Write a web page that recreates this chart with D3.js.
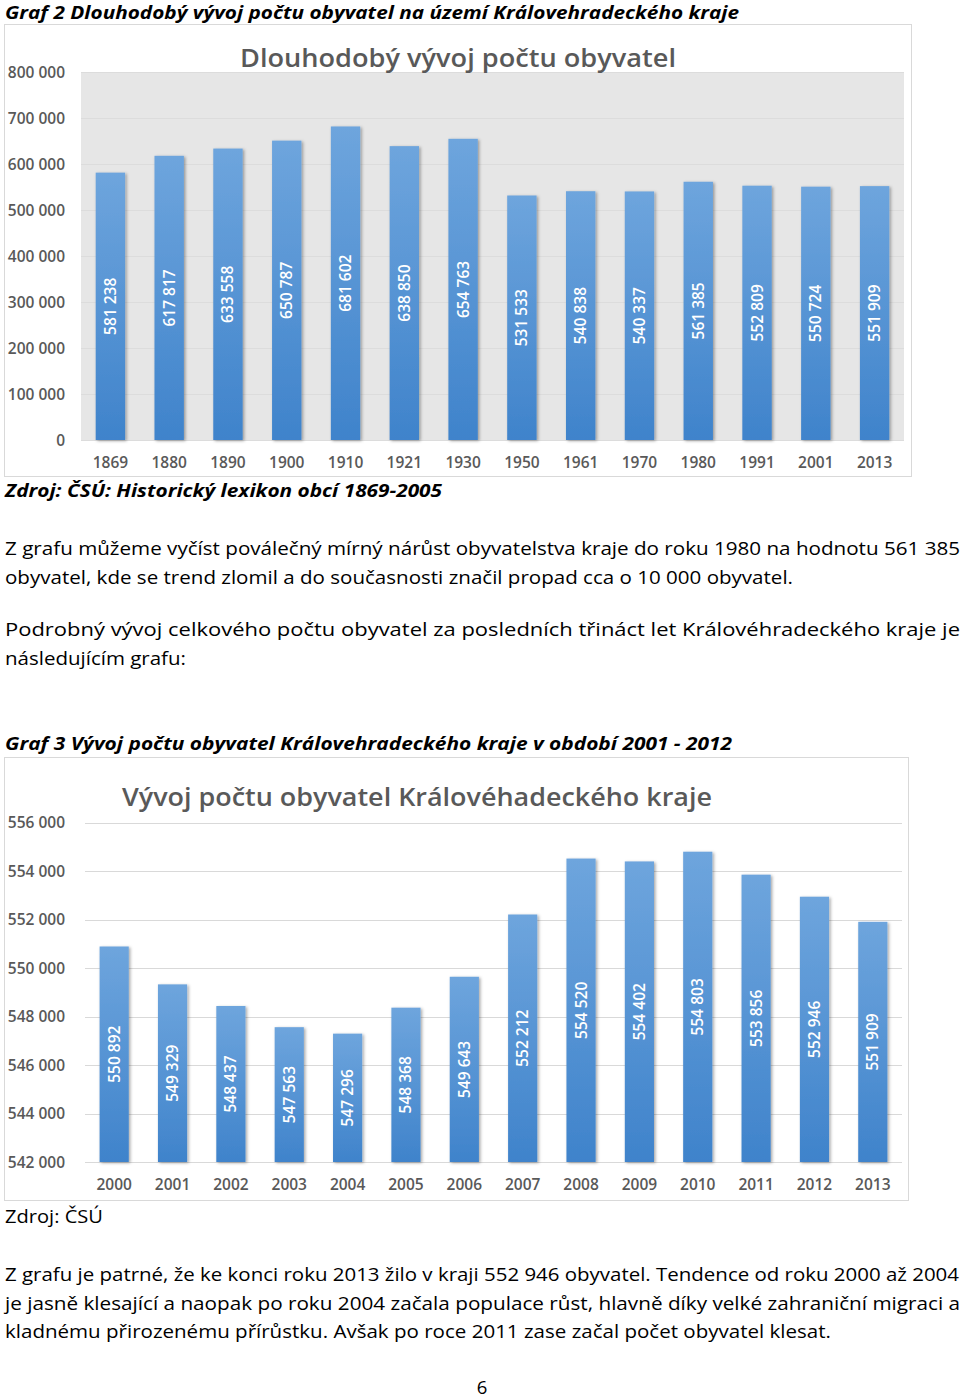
<!DOCTYPE html>
<html>
<head>
<meta charset="utf-8">
<script src="https://cdn.jsdelivr.net/npm/d3@7"></script>
<style>
  body { margin: 0; background: #fff; }
  svg { display: block; }
</style>
</head>
<body>
<svg id="page" width="960" height="1400"></svg>
<script>
const years1 = ["1869", "1880", "1890", "1900", "1910", "1921", "1930", "1950", "1961", "1970", "1980", "1991", "2001", "2013"],
  pop1 = [581238, 617817, 633558, 650787, 681602, 638850, 654763, 531533, 540838, 540337, 561385, 552809, 550724, 551909],
  ticks1 = [0, 100000, 200000, 300000, 400000, 500000, 600000, 700000, 800000];

const years2 = ["2000", "2001", "2002", "2003", "2004", "2005", "2006", "2007", "2008", "2009", "2010", "2011", "2012", "2013"],
  pop2 = [550892, 549329, 548437, 547563, 547296, 548368, 549643, 552212, 554520, 554402, 554803, 553856, 552946, 551909],
  ticks2 = [542000, 544000, 546000, 548000, 550000, 552000, 554000, 556000];

const title1 = "Dlouhodobý vývoj počtu obyvatel",
  title2 = "Vývoj počtu obyvatel Královéhadeckého kraje";

// page text: [text, y baseline, width, style]
const pageLines = [
  ["Graf 2 Dlouhodobý vývoj počtu obyvatel na území Královehradeckého kraje", 18.5, 734, "bi"],
  ["Zdroj: ČSÚ: Historický lexikon obcí 1869-2005", 497, 437, "bi"],
  ["Z grafu můžeme vyčíst poválečný mírný nárůst obyvatelstva kraje do roku 1980 na hodnotu 561 385", 555, 955, "n"],
  ["obyvatel, kde se trend zlomil a do současnosti značil propad cca o 10 000 obyvatel.", 584, 788, "n"],
  ["Podrobný vývoj celkového počtu obyvatel za posledních třináct let Královéhradeckého kraje je", 636, 955, "n"],
  ["následujícím grafu:", 665, 181, "n"],
  ["Graf 3 Vývoj počtu obyvatel Královehradeckého kraje v období 2001 - 2012", 750, 727, "bi"],
  ["Zdroj: ČSÚ", 1223, 98, "n"],
  ["Z grafu je patrné, že ke konci roku 2013 žilo v kraji 552 946 obyvatel. Tendence od roku 2000 až 2004", 1281, 954, "n"],
  ["je jasně klesající a naopak po roku 2004 začala populace růst, hlavně díky velké zahraniční migraci a", 1310, 955, "n"],
  ["kladnému přirozenému přírůstku. Avšak po roce 2011 zase začal počet obyvatel klesat.", 1338, 826, "n"]
];

const font = "'Open Sans', 'DejaVu Sans', sans-serif",
  grey = "#595959",
  fmt = v => d3.format(",")(v).replace(/,/g, " ");

const svg = d3.select("#page");
svg.append("rect").attr("width", 960).attr("height", 1400).attr("fill", "#fff");

// defs: bar gradient + shadow
const defs = svg.append("defs");
const grad = defs.append("linearGradient")
  .attr("id", "barGrad").attr("x1", 0).attr("y1", 0).attr("x2", 0).attr("y2", 1);
grad.append("stop").attr("offset", "0%").attr("stop-color", "#6ea5dd");
grad.append("stop").attr("offset", "100%").attr("stop-color", "#3f83cb");

defs.append("filter").attr("id", "shadow")
  .attr("x", "-30%").attr("y", "-10%").attr("width", "160%").attr("height", "120%")
  .append("feDropShadow")
  .attr("dx", 1.5).attr("dy", 1).attr("stdDeviation", 1.6)
  .attr("flood-color", "#000").attr("flood-opacity", 0.35);

// page text
svg.append("g").selectAll("text").data(pageLines).enter()
  .append("text")
  .attr("x", 5)
  .attr("y", d => d[1])
  .attr("textLength", d => d[2])
  .attr("lengthAdjust", "spacingAndGlyphs")
  .style("font-family", font)
  .style("font-size", d => d[3] == "bi" ? "17.5px" : "18.5px")
  .style("font-weight", d => d[3] == "bi" ? 700 : 400)
  .style("font-style", d => d[3] == "bi" ? "italic" : "normal")
  .attr("fill", "#000")
  .text(d => d[0]);

svg.append("text")
  .attr("x", 482).attr("y", 1394)
  .attr("text-anchor", "middle")
  .style("font-family", font).style("font-size", "18.5px")
  .text("6");

function drawChart(cfg) {
  const g = svg.append("g");

  g.append("rect")
    .attr("x", cfg.box[0] + 0.5).attr("y", cfg.box[1] + 0.5)
    .attr("width", cfg.box[2]).attr("height", cfg.box[3])
    .attr("fill", "#fff").attr("stroke", "#d9d9d9");

  const x = d3.scaleBand()
    .domain(cfg.cats)
    .range([cfg.left, cfg.right])
    .paddingInner(0.5)
    .paddingOuter(0.25);

  const y = d3.scaleLinear()
    .domain(cfg.domain)
    .range([cfg.bottom, cfg.top]);

  if (cfg.plotBg) {
    g.append("rect")
      .attr("x", cfg.left).attr("y", cfg.top)
      .attr("width", cfg.right - cfg.left).attr("height", cfg.bottom - cfg.top + 1)
      .attr("fill", cfg.plotBg);
  }

  // gridlines
  g.append("g").selectAll("line").data(cfg.ticks).enter()
    .append("line")
    .attr("x1", cfg.left).attr("x2", cfg.right)
    .attr("y1", d => Math.round(y(d)) + 0.5).attr("y2", d => Math.round(y(d)) + 0.5)
    .attr("stroke", cfg.gridColor).attr("stroke-width", 1.2);

  // y tick labels
  g.append("g").selectAll("text").data(cfg.ticks).enter()
    .append("text")
    .attr("x", 65)
    .attr("y", d => y(d) + 5.5)
    .attr("text-anchor", "end")
    .style("font-family", font).style("font-size", "15.5px").style("font-weight", 600)
    .attr("fill", grey)
    .text(d => fmt(d));

  // bars
  g.append("g").selectAll("rect").data(cfg.values).enter()
    .append("rect")
    .attr("x", (d, i) => x(cfg.cats[i]))
    .attr("y", d => y(d))
    .attr("width", x.bandwidth())
    .attr("height", d => cfg.bottom - y(d))
    .attr("fill", "url(#barGrad)")
    .attr("filter", "url(#shadow)");

  // value labels, rotated, centred in the bar
  g.append("g").selectAll("text").data(cfg.values).enter()
    .append("text")
    .attr("transform", (d, i) => {
      const cx = x(cfg.cats[i]) + x.bandwidth() / 2 + 5.5,
        cy = (y(d) + cfg.bottom) / 2;
      return `translate(${cx},${cy}) rotate(-90)`;
    })
    .attr("text-anchor", "middle")
    .style("font-family", font).style("font-size", "15.5px").style("font-weight", 600)
    .attr("fill", "#fff")
    .text(d => fmt(d));

  // x labels
  g.append("g").selectAll("text").data(cfg.cats).enter()
    .append("text")
    .attr("x", d => x(d) + x.bandwidth() / 2)
    .attr("y", cfg.xLabelY)
    .attr("text-anchor", "middle")
    .style("font-family", font).style("font-size", "15.5px").style("font-weight", 600)
    .attr("fill", grey)
    .text(d => d);

  // title
  g.append("text")
    .attr("x", cfg.titleX).attr("y", cfg.titleY)
    .attr("text-anchor", "middle")
    .attr("textLength", cfg.titleW).attr("lengthAdjust", "spacingAndGlyphs")
    .style("font-family", font).style("font-size", "26px").style("font-weight", 600)
    .attr("fill", grey)
    .text(cfg.title);
}

drawChart({
  box: [4, 24, 907, 452],
  cats: years1, values: pop1, ticks: ticks1,
  domain: [0, 800000],
  left: 81, right: 904, top: 72, bottom: 440,
  plotBg: "#e6e6e6", gridColor: "#dcdcdc",
  xLabelY: 468,
  title: title1, titleX: 458, titleY: 67, titleW: 436
});

drawChart({
  box: [4, 757, 904, 443],
  cats: years2, values: pop2, ticks: ticks2,
  domain: [542000, 556000],
  left: 85, right: 902, top: 822.7, bottom: 1162,
  plotBg: null, gridColor: "#d9d9d9",
  xLabelY: 1190,
  title: title2, titleX: 417, titleY: 806, titleW: 590
});
</script>
</body>
</html>
